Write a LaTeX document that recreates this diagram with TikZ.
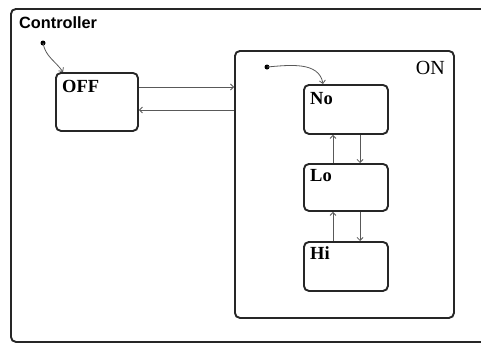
\documentclass[tikz,border=0pt]{standalone}
\usepackage{fontspec}
\setmainfont{Liberation Serif}
\newfontfamily\ctrlfont{Liberation Sans}
\usetikzlibrary{calc,arrows.meta}
\begin{document}
\begin{tikzpicture}[x=1pt,y=-1pt,
  statebox/.style={draw=black!85, line width=1.9pt, rounded corners=5pt, inner sep=0pt, anchor=north west},
  tr/.style={draw=black!65, line width=0.8pt, -{Straight Barb[length=3pt,width=6pt]}},
  lbl/.style={anchor=base west, inner sep=0pt, font=\fontsize{18.5}{21}\selectfont\bfseries},
  initdot/.style={circle, fill=black, inner sep=0pt, minimum size=5pt},
]
\useasboundingbox (0,0) rectangle (481,343);
\clip (0,0) rectangle (481,343);
% outer state
\node[statebox, minimum width=492pt, minimum height=333pt] (ctrl) at (10,8) {};
\node[anchor=base west, inner sep=0pt, font=\ctrlfont\fontsize{16.3}{19}\selectfont\bfseries] (ctrllbl) at (19,28) {Controller};
% OFF
\node[statebox, minimum width=82pt, minimum height=58pt] (off) at (55,72) {};
\node[lbl] (offlbl) at (62,92) {OFF};
% ON
\node[statebox, minimum width=219pt, minimum height=267pt] (on) at (234,50) {};
\node[anchor=base east, inner sep=0pt, font=\fontsize{20}{23}\selectfont] (onlbl) at (445,74) {ON};
% inner states
\node[statebox, minimum width=84pt, minimum height=49pt] (no) at (303,84) {};
\node[lbl] (nolbl) at (310,104) {No};
\node[statebox, minimum width=84pt, minimum height=47pt] (lo) at (303,163) {};
\node[lbl] (lolbl) at (310,181) {Lo};
\node[statebox, minimum width=84pt, minimum height=49pt] (hi) at (303,241) {};
\node[lbl] (hilbl) at (310,259) {Hi};
% initial pseudostates
\node[initdot] (i1) at (43,43) {};
\node[initdot] (i2) at (267,67) {};
\coordinate (i1t) at ($(off.north west)+(8,0)$);
\coordinate (i2t) at ($(no.north west)+(20,0)$);
\draw[tr] (i1.center) to[out=-80,in=125] (i1t);
\draw[tr] (i2.center) to[out=5,in=100] (i2t);
% OFF <-> ON
\coordinate (a1) at ($(off.north east)+(0,15)$);
\coordinate (a2) at ($(off.north east)+(0,38)$);
\draw[tr] (a1) -- (a1 -| on.west);
\draw[tr] (a2 -| on.west) -- (a2);
% No <-> Lo
\coordinate (b1) at ($(no.south west)+(30,0)$);
\coordinate (b2) at ($(no.south west)+(57,0)$);
\draw[tr] (b1 |- lo.north) -- (b1);
\draw[tr] (b2) -- (b2 |- lo.north);
% Lo <-> Hi
\coordinate (c1) at ($(lo.south west)+(30,0)$);
\coordinate (c2) at ($(lo.south west)+(57,0)$);
\draw[tr] (c1 |- hi.north) -- (c1);
\draw[tr] (c2) -- (c2 |- hi.north);
\end{tikzpicture}
\end{document}
